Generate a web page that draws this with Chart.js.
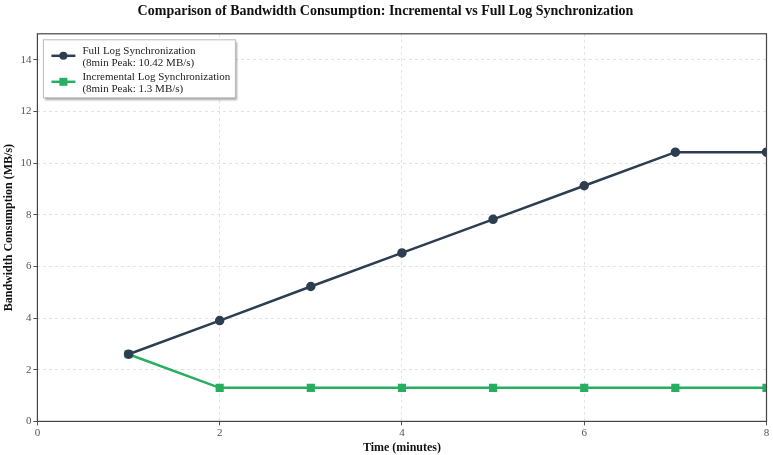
<!DOCTYPE html>
<html>
<head>
<meta charset="utf-8">
<script src="https://cdn.jsdelivr.net/npm/chart.js@4"></script>
<style>
  html, body { margin: 0; padding: 0; background: #fff; }
  #wrap { width: 773px; height: 455px; }
</style>
</head>
<body>
<div id="wrap"><canvas id="chart"></canvas></div>
<script>
// ---------------- Data ----------------
const minutes = [1, 2, 3, 4, 5, 6, 7, 8];
const fullLog = [2.6, 3.9, 5.22, 6.52, 7.82, 9.12, 10.42, 10.42];
const incrementalLog = [2.6, 1.3, 1.3, 1.3, 1.3, 1.3, 1.3, 1.3];
const xTicks = [0, 2, 4, 6, 8];
const yTicks = [0, 2, 4, 6, 8, 10, 12, 14];
const legendLabels = [
    ["Full Log Synchronization", "(8min Peak: 10.42 MB/s)"],
    ["Incremental Log Synchronization", "(8min Peak: 1.3 MB/s)"]
];

const serif = "'Liberation Serif', 'DejaVu Serif', serif";
const navy = "#2c3e50";
const green = "#27ae60";

// frame around the plot area + legend box inside it
const framePlugin = {
    id: "frame",
    afterDraw(chart) {
        const ctx = chart.ctx;
        const a = chart.chartArea;
        ctx.save();
        ctx.strokeStyle = "#444";
        ctx.lineWidth = 1.2;
        ctx.strokeRect(a.left, a.top, a.right - a.left, a.bottom - a.top);

        // legend
        const bx = a.left + 6, by = a.top + 6, bw = 192, bh = 58;
        ctx.shadowColor = "rgba(0,0,0,0.35)";
        ctx.shadowOffsetX = 2;
        ctx.shadowOffsetY = 2;
        ctx.shadowBlur = 2;
        ctx.fillStyle = "#fff";
        ctx.fillRect(bx, by, bw, bh);
        ctx.shadowColor = "transparent";
        ctx.strokeStyle = "#bbb";
        ctx.lineWidth = 1;
        ctx.strokeRect(bx, by, bw, bh);

        ctx.font = "11px " + serif;
        ctx.textBaseline = "middle";
        chart.data.datasets.forEach(function(ds, i) {
            const y = by + 13 + i * 26;
            ctx.strokeStyle = ds.borderColor;
            ctx.lineWidth = 2.5;
            ctx.beginPath();
            ctx.moveTo(bx + 8, y + 3);
            ctx.lineTo(bx + 32, y + 3);
            ctx.stroke();
            ctx.fillStyle = ds.borderColor;
            if (ds.pointStyle === "rect") {
                ctx.fillRect(bx + 16, y - 1, 8, 8);
            } else {
                ctx.beginPath();
                ctx.arc(bx + 20, y + 3, 4, 0, Math.PI * 2);
                ctx.fill();
            }
            ctx.fillStyle = "#222";
            ctx.fillText(legendLabels[i][0], bx + 39, y - 2);
            ctx.fillText(legendLabels[i][1], bx + 39, y + 10);
        });
        ctx.restore();
    }
};

new Chart(document.getElementById("chart"), {
    type: "line",
    data: {
        datasets: [{
            label: legendLabels[0].join(" "),
            data: minutes.map((m, i) => ({ x: m, y: fullLog[i] })),
            borderColor: navy,
            backgroundColor: navy,
            borderWidth: 2.5,
            pointStyle: "circle",
            pointRadius: 3.5,
            pointHoverRadius: 3.5
        }, {
            label: legendLabels[1].join(" "),
            data: minutes.map((m, i) => ({ x: m, y: incrementalLog[i] })),
            borderColor: green,
            backgroundColor: green,
            borderWidth: 2.5,
            pointStyle: "rect",
            pointRadius: 4,
            pointHoverRadius: 4
        }]
    },
    options: {
        responsive: true,
        maintainAspectRatio: false,
        animation: false,
        layout: { padding: { left: 2, right: 4, top: 0, bottom: 0 } },
        plugins: {
            legend: { display: false },
            tooltip: { enabled: false },
            title: {
                display: true,
                text: "Comparison of Bandwidth Consumption: Incremental vs Full Log Synchronization",
                font: { family: serif, size: 14, weight: "bold" },
                color: "#111",
                padding: { top: 3, bottom: 14 }
            }
        },
        scales: {
            x: {
                type: "linear",
                min: 0,
                max: 8,
                afterBuildTicks: function(scale) {
                    scale.ticks = xTicks.map(v => ({ value: v }));
                },
                grid: {
                    color: "#e3e3e3",
                    tickColor: "#555",
                    tickLength: 4,
                    drawTicks: true
                },
                border: { display: false, dash: [3, 3] },
                ticks: { font: { family: serif, size: 11 }, color: "#555", padding: 1, maxRotation: 0 },
                title: {
                    display: true,
                    text: "Time (minutes)",
                    font: { family: serif, size: 12, weight: "bold" },
                    color: "#111",
                    padding: { top: 0, bottom: 0 }
                }
            },
            y: {
                type: "linear",
                min: 0,
                max: 15,
                afterBuildTicks: function(scale) {
                    scale.ticks = yTicks.map(v => ({ value: v }));
                },
                grid: {
                    color: "#e3e3e3",
                    tickColor: "#555",
                    tickLength: 4
                },
                border: { display: false, dash: [3, 3] },
                ticks: { font: { family: serif, size: 11 }, color: "#555", padding: 2 },
                title: {
                    display: true,
                    text: "Bandwidth Consumption (MB/s)",
                    font: { family: serif, size: 12, weight: "bold" },
                    color: "#111",
                    padding: { top: 0, bottom: 2 }
                }
            }
        }
    },
    plugins: [framePlugin]
});
</script>
</body>
</html>
